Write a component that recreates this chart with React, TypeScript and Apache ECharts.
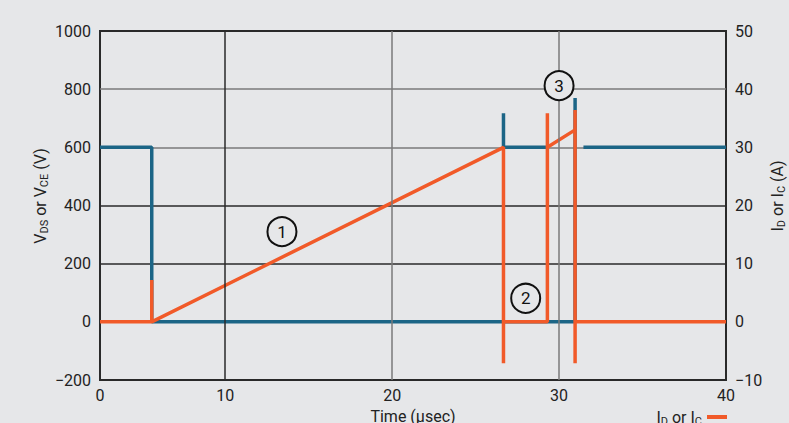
import React, { useEffect, useRef } from "react";
import * as echarts from "echarts";

// Time axis: the plot's left edge is labelled "0" but sits at t≈2.5 on the 10/20/30/40 scale
const xMin = 2.5;
const xMax = 40;
const xLabelValues = [2.5, 10, 20, 30, 40];
const xLabelTexts = ["0", "10", "20", "30", "40"];

// V_DS / V_CE (left axis, volts)
const vdsSeg1: [number, number][] = [
  [2.5, 600], [5.6, 600], [5.6, 0], [30.96, 0], [30.96, 770],
];
const vdsSeg2: [number, number][] = [
  [26.67, 717], [26.67, 600], [29.3, 600],
];
const vdsSeg3: [number, number][] = [
  [31.46, 600], [40, 600],
];

// I_D / I_C (right axis, amps)
const idData: [number, number][] = [
  [2.5, 0], [5.6, 0], [5.6, 7.2], [5.6, 0], [26.67, 30], [26.67, -7.1], [26.67, 0],
  [29.3, 0], [29.3, 35.85], [29.3, 30], [30.96, 33], [30.96, 36.4], [30.96, -7.1],
  [30.96, 0], [40, 0],
];

// Numbered annotations (time, volts)
const noteLabels = ["1", "2", "3"];
const noteX = [13.4, 28.0, 30.0];
const noteY = [310, 81, 812];

// Vertical grid lines
const vGridX = [10, 20, 30];
const vGridColors = ["#2a2a2a", "#7a7a7a", "#7a7a7a"];

const BG = "#e6e7e9";
const BLUE = "#1c6586";
const ORANGE = "#f15a29";
const FONT = "Roboto";

const fmtNum = (v: number) => String(v).replace("-", "\u2212");

export default function App() {
  const ref = useRef<HTMLDivElement>(null);
  useEffect(() => {
    if (!ref.current) return;
    const chart = echarts.init(ref.current, undefined, { renderer: "svg" });
    const lineBase = {
      type: "line" as const,
      showSymbol: false,
      symbol: "none",
      silent: true,
      z: 3,
    };
    const richSub = {
      n: { fontSize: 16, fontFamily: FONT, color: "#222" },
      s: { fontSize: 11, fontFamily: FONT, color: "#222", padding: [8, 0, 0, 0] },
    };
    chart.setOption({
      animation: false,
      backgroundColor: BG,
      textStyle: { fontFamily: FONT, color: "#222" },
      grid: {
        left: 100,
        right: 63,
        top: 31,
        bottom: 43,
        outerBoundsMode: "none",
        containLabel: false,
        show: true,
        borderColor: "#2a2a2a",
        borderWidth: 2,
        backgroundColor: BG,
      },
      legend: {
        data: ["ID"],
        right: 62,
        top: 409,
        align: "right",
        icon: "rect",
        itemWidth: 20,
        itemHeight: 4,
        padding: 0,
        formatter: () => "{n|I}{s|D}{n| or I}{s|C}",
        textStyle: { fontFamily: FONT, color: "#222", rich: richSub },
      },
      graphic: [
        {
          type: "text",
          x: 40,
          y: 196,
          rotation: Math.PI / 2,
          silent: true,
          style: {
            text: "{n|V}{s|DS}{n| or V}{s|CE}{n| (V)}",
            rich: richSub,
            align: "center",
            verticalAlign: "middle",
            fill: "#222",
          },
        },
        {
          type: "text",
          x: 777,
          y: 196,
          rotation: Math.PI / 2,
          silent: true,
          style: {
            text: "{n|I}{s|D}{n| or I}{s|C}{n| (A)}",
            rich: richSub,
            align: "center",
            verticalAlign: "middle",
            fill: "#222",
          },
        },
      ],
      xAxis: {
        type: "value",
        min: xMin,
        max: xMax,
        name: "Time (µsec)",
        nameLocation: "middle",
        nameGap: 28,
        nameTextStyle: { fontSize: 16, fontFamily: FONT, color: "#222" },
        axisLine: { show: false },
        axisTick: { show: false },
        splitLine: { show: false },
        axisLabel: {
          customValues: xLabelValues,
          fontSize: 16,
          fontFamily: FONT,
          color: "#222",
          margin: 7,
          formatter: (v: number) => {
            const i = xLabelValues.indexOf(v);
            return i >= 0 ? xLabelTexts[i] : "";
          },
        },
      },
      yAxis: [
        {
          type: "value",
          min: -200,
          max: 1000,
          interval: 200,
          axisLine: { show: false },
          axisTick: { show: false },
          axisLabel: { fontSize: 16, fontFamily: FONT, color: "#222", margin: 9, formatter: fmtNum },
          splitLine: {
            show: true,
            lineStyle: {
              width: 1.5,
              color: ["#2a2a2a", "#2a2a2a", "#2a2a2a", "#2a2a2a", "#7a7a7a", "#7a7a7a", "#2a2a2a"],
            },
          },
        },
        {
          type: "value",
          min: -10,
          max: 50,
          interval: 10,
          axisLine: { show: false },
          axisTick: { show: false },
          axisLabel: { fontSize: 16, fontFamily: FONT, color: "#222", margin: 9, formatter: fmtNum },
          splitLine: { show: false },
        },
      ],
      series: [
        {
          type: "line",
          name: "grid",
          data: [],
          silent: true,
          z: 1,
          markLine: {
            silent: true,
            symbol: "none",
            label: { show: false },
            animation: false,
            data: vGridX.map((x, i) => ({
              xAxis: x,
              lineStyle: { color: vGridColors[i], width: 1.5, type: "solid" },
            })),
          },
        },
        { ...lineBase, name: "VDS", data: vdsSeg1, lineStyle: { color: BLUE, width: 3.5 }, itemStyle: { color: BLUE } },
        { ...lineBase, name: "VDS2", data: vdsSeg2, lineStyle: { color: BLUE, width: 3.5 }, itemStyle: { color: BLUE } },
        { ...lineBase, name: "VDS3", data: vdsSeg3, lineStyle: { color: BLUE, width: 3.5 }, itemStyle: { color: BLUE } },
        {
          ...lineBase,
          name: "ID",
          yAxisIndex: 1,
          z: 4,
          data: idData,
          lineStyle: { color: ORANGE, width: 3.5 },
          itemStyle: { color: ORANGE },
        },
        {
          type: "scatter",
          name: "notes",
          silent: true,
          z: 5,
          symbolSize: 29,
          data: noteX.map((x, i) => [x, noteY[i]]),
          itemStyle: { color: BG, borderColor: "#111", borderWidth: 2, opacity: 1 },
          label: {
            show: true,
            position: "inside",
            fontSize: 17,
            fontFamily: FONT,
            color: "#111",
            formatter: (p: any) => noteLabels[p.dataIndex],
          },
        },
      ],
    });
    return () => chart.dispose();
  }, []);
  return (
    <div
      ref={ref}
      style={{ position: "absolute", left: 0, top: 0, width: 789, height: 423 }}
    />
  );
}
